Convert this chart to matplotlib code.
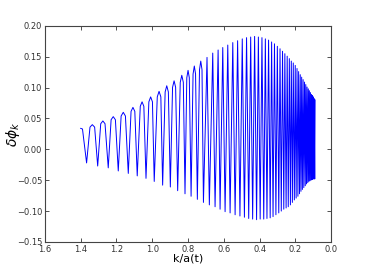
import numpy as np
import matplotlib
matplotlib.use('Agg')
import matplotlib.pyplot as plt

# values

# start of the curve
k_start = [1.400, 1.390]
phi_start = [0.034, 0.033]

# maxima of the oscillation
k_peak = [1.335, 1.276, 1.218, 1.162, 1.108, 1.057, 1.009, 0.962, 0.919, 0.878,
          0.835, 0.800, 0.765, 0.729, 0.694, 0.662, 0.632, 0.606, 0.578, 0.550,
          0.523, 0.497, 0.473, 0.450, 0.428, 0.407, 0.387, 0.368, 0.350, 0.333,
          0.317, 0.301, 0.286, 0.272, 0.259, 0.246, 0.234, 0.223, 0.212, 0.201,
          0.191, 0.182, 0.173, 0.165, 0.157, 0.149, 0.142, 0.135, 0.128, 0.122,
          0.116, 0.110, 0.105, 0.100, 0.095, 0.090]
phi_peak = [0.040, 0.046, 0.053, 0.060, 0.068, 0.077, 0.085, 0.094, 0.103, 0.111,
            0.120, 0.128, 0.135, 0.143, 0.149, 0.156, 0.161, 0.165, 0.169, 0.173,
            0.176, 0.179, 0.181, 0.182, 0.183, 0.182, 0.181, 0.179, 0.177, 0.174,
            0.171, 0.167, 0.163, 0.159, 0.155, 0.151, 0.147, 0.143, 0.140, 0.136,
            0.131, 0.126, 0.121, 0.117, 0.113, 0.109, 0.105, 0.101, 0.098, 0.095,
            0.092, 0.089, 0.087, 0.085, 0.082, 0.080]

# minima (each one just before the maximum with the same index)
k_trough = [1.367, 1.305, 1.246, 1.190, 1.134, 1.084, 1.035, 0.989, 0.942, 0.899,
            0.858, 0.817, 0.783, 0.748, 0.714, 0.681, 0.649, 0.621, 0.593, 0.565,
            0.537, 0.510, 0.485, 0.461, 0.439, 0.417, 0.397, 0.377, 0.359, 0.341,
            0.325, 0.309, 0.293, 0.279, 0.265, 0.252, 0.240, 0.228, 0.217, 0.206,
            0.196, 0.186, 0.177, 0.169, 0.161, 0.153, 0.145, 0.138, 0.131, 0.125,
            0.119, 0.113, 0.107, 0.102, 0.097, 0.092]
phi_trough = [-0.022, -0.027, -0.030, -0.035, -0.039, -0.043, -0.047, -0.052, -0.058, -0.061,
              -0.067, -0.072, -0.076, -0.081, -0.086, -0.090, -0.093, -0.097, -0.101, -0.103,
              -0.106, -0.108, -0.110, -0.112, -0.113, -0.114, -0.113, -0.113, -0.112, -0.111,
              -0.109, -0.106, -0.103, -0.100, -0.097, -0.095, -0.093, -0.090, -0.086, -0.082,
              -0.079, -0.076, -0.072, -0.068, -0.065, -0.062, -0.059, -0.056, -0.054, -0.052,
              -0.051, -0.050, -0.049, -0.048, -0.048, -0.048]

# shoulders of the broad early maxima (left / right of the peak)
k_sh_left = [1.348, 1.288, 1.230, 1.174, 1.1185, 1.067, 1.019, 0.972, 0.928, 0.8866,
             0.8436, 0.807, 0.772, 0.736]
k_sh_right = [1.322, 1.264, 1.206, 1.150, 1.0975, 1.047, 0.999, 0.952, 0.910, 0.8694,
              0.8264, 0.793, 0.758, 0.722]
phi_sh = [0.036, 0.0415, 0.048, 0.054, 0.0615, 0.0697, 0.077, 0.085, 0.093, 0.1005,
          0.1086, 0.116, 0.122, 0.129]

# put the curve together in order of decreasing k
kk = list(k_start)
yy = list(phi_start)
for i in range(len(k_peak)):
    kk.append(k_trough[i]); yy.append(phi_trough[i])
    if i < len(k_sh_left):
        kk.append(k_sh_left[i]); yy.append(phi_sh[i])
    kk.append(k_peak[i]); yy.append(phi_peak[i])
    if i < len(k_sh_right):
        kk.append(k_sh_right[i]); yy.append(phi_sh[i])

fig = plt.figure(figsize=(3.68, 2.70), dpi=100)
ax = fig.add_axes([0.122, 0.104, 0.778, 0.800])

ax.plot(kk, yy, c='b', lw=0.7)

ax.set_xlim(1.6, 0.0)
ax.set_ylim(-0.15, 0.20)
ax.set_xticks(np.arange(0, 1.61, 0.2))
ax.set_yticks(np.arange(-0.15, 0.201, 0.05))

ax.tick_params(direction='in', top=True, right=True, length=3, width=0.6,
               labelsize=6, pad=2, colors='#333333')
for s in ax.spines.values():
    s.set_color('#444444')
    s.set_linewidth(0.8)

ax.set_xlabel('k/a(t)', fontsize=8)
ax.xaxis.set_label_coords(0.5, -0.053)
ax.set_ylabel(r'$\delta\phi_k$', fontsize=10)
ax.yaxis.set_label_coords(-0.112, 0.5)
ax.yaxis.label.set_va('center')

plt.savefig('out.png', dpi=100)
